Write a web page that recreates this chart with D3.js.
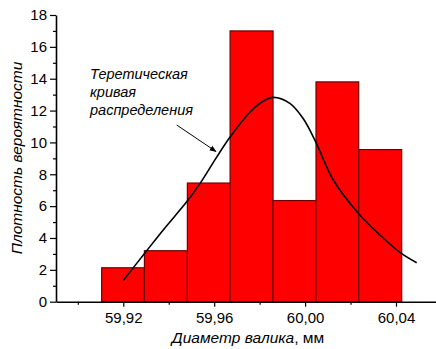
<!DOCTYPE html>
<html><head><meta charset="utf-8">
<script src="https://cdn.jsdelivr.net/npm/d3@7"></script>
<style>
body{margin:0;background:#fff;}
svg text{font-family:"Liberation Sans",Arial,sans-serif;fill:#000;}
</style></head>
<body>
<svg id="c" width="436" height="349"></svg>
<script>
// Histogram bins (left edges, right edge of last bin) and probability density heights
const binStarts = [59.9105, 59.9293, 59.9482, 59.9670, 59.9859, 60.0048, 60.0236];
const binEnd = 60.0425;
const densities = [2.13, 3.2, 7.45, 17.0, 6.35, 13.8, 9.55];
// Theoretical distribution curve points
const curveX = [59.9200, 59.9303, 59.9383, 59.9479, 59.9538, 59.9611, 59.9670, 59.9758, 59.9810, 59.9860, 59.9933, 59.9990, 60.0043, 60.0124, 60.0234, 60.0329, 60.0417, 60.0491];
const curveY = [1.33, 3.20, 4.63, 6.27, 7.43, 9.08, 10.34, 11.91, 12.54, 12.83, 12.45, 11.53, 10.15, 7.64, 5.55, 4.19, 3.10, 2.45];
const xMajor = [59.92, 59.96, 60.00, 60.04];
const xMinor = [59.90, 59.94, 59.98, 60.02];
const yMajor = [0, 2, 4, 6, 8, 10, 12, 14, 16, 18];
const yMinor = [1, 3, 5, 7, 9, 11, 13, 15, 17];
const annotation = ["Теретическая", "кривая", "распределения"];
const xTitle = "Диаметр валика";
const xUnit = ", мм";
const yTitle = "Плотность вероятности";

const svg = d3.select("#c");
const x = d3.scaleLinear().domain([59.8904, 60.0576]).range([56, 436]);
const y = d3.scaleLinear().domain([0, 18]).range([301.7, 15]);

// bars
const bins = binStarts.map((s, i) => ({x0: s, x1: i < binStarts.length - 1 ? binStarts[i + 1] : binEnd, v: densities[i]}));
svg.append("g").selectAll("rect").data(bins).join("rect")
  .attr("x", d => x(d.x0)).attr("width", d => x(d.x1) - x(d.x0))
  .attr("y", d => y(d.v)).attr("height", d => y(0) - y(d.v))
  .attr("fill", "#ff0000").attr("stroke", "#6e0000").attr("stroke-width", 1.2);

// curve
const pts = curveX.map((v, i) => [v, curveY[i]]);
svg.append("path").datum(pts)
  .attr("d", d3.line().x(d => x(d[0])).y(d => y(d[1])).curve(d3.curveCatmullRom))
  .attr("fill", "none").attr("stroke", "#000").attr("stroke-width", 1.6);

// axes
const fmt = v => d3.format(".2f")(v).replace(".", ",");
svg.append("g").attr("transform", `translate(0,${y(0)})`)
  .call(d3.axisBottom(x).tickValues(xMajor).tickFormat(fmt).tickSizeInner(5).tickSizeOuter(0).tickPadding(6));
svg.append("g").attr("transform", `translate(0,${y(0)})`)
  .call(d3.axisBottom(x).tickValues(xMinor).tickFormat("").tickSizeInner(3).tickSizeOuter(0))
  .select(".domain").remove();
svg.append("g").attr("transform", `translate(${x.range()[0]},0)`)
  .call(d3.axisLeft(y).tickValues(yMajor).tickSizeInner(6).tickSizeOuter(0).tickPadding(3));
svg.append("g").attr("transform", `translate(${x.range()[0]},0)`)
  .call(d3.axisLeft(y).tickValues(yMinor).tickFormat("").tickSizeInner(3).tickSizeOuter(0))
  .select(".domain").remove();
svg.selectAll(".domain").attr("stroke", "#000").attr("stroke-width", 1.6);
svg.selectAll(".tick line").attr("stroke", "#000").attr("stroke-width", 1.2);
svg.selectAll(".tick text").attr("font-size", 15).attr("font-family", "Liberation Sans, Arial, sans-serif").attr("fill", "#222");

// axis titles
const xt = svg.append("text").attr("x", 248).attr("y", 343).attr("text-anchor", "middle").attr("font-size", 15.5);
xt.append("tspan").attr("font-style", "italic").text(xTitle);
xt.append("tspan").text(xUnit);
svg.append("text").attr("transform", "translate(22,158) rotate(-90)")
  .attr("text-anchor", "middle").attr("font-size", 15.5).attr("font-style", "italic").text(yTitle);

// annotation
svg.append("g").selectAll("text").data(annotation).join("text")
  .attr("x", 90).attr("y", (d, i) => 78.5 + i * 18.3)
  .attr("font-size", 14.5).attr("font-style", "italic").text(d => d);

// arrow
svg.append("defs").append("marker").attr("id", "ah").attr("viewBox", "0 0 10 10")
  .attr("refX", 9).attr("refY", 5).attr("markerWidth", 7).attr("markerHeight", 7).attr("orient", "auto")
  .append("path").attr("d", "M0,1 L10,5 L0,9 Z").attr("fill", "#000");
svg.append("line").attr("x1", 176.7).attr("y1", 125).attr("x2", 216).attr("y2", 151.5)
  .attr("stroke", "#000").attr("stroke-width", 1).attr("marker-end", "url(#ah)");
</script>
</body></html>
